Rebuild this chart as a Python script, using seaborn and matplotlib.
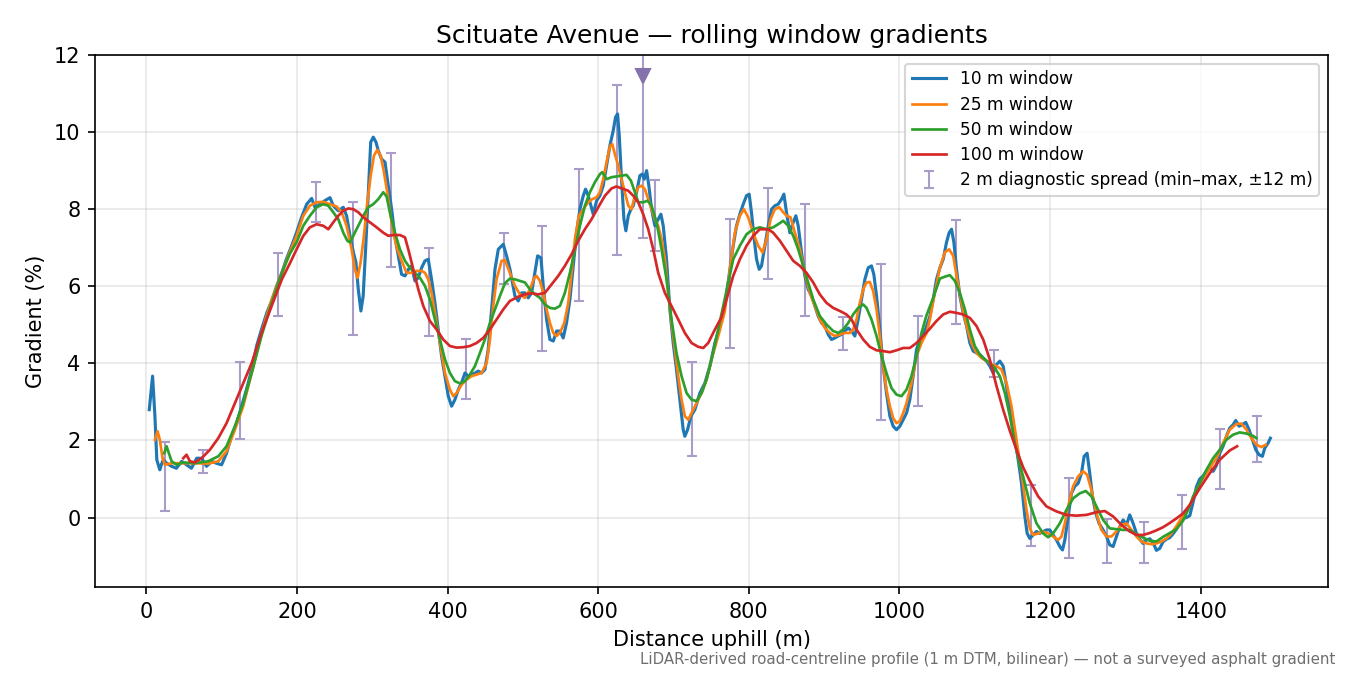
import matplotlib
matplotlib.use("Agg")
import matplotlib.pyplot as plt
import seaborn as sns
import numpy as np

# ---------------- data ----------------
w10_x = [4, 8.4, 11.5, 14, 18, 20, 22.6, 27, 33.7, 40, 47, 53.5, 60, 67, 73.5, 80, 87, 93, 100, 106.6,
         113, 120, 126.6, 133, 140, 146.5, 153, 160, 166.5, 173, 180, 186, 193, 199.6, 206, 213, 219.6, 224,
         230.6, 237, 244, 248.3, 255, 261.6, 266, 270.5, 275, 278.4, 281.5, 285, 288, 291.7, 294.8, 298,
         301.4, 305, 308, 312.5, 317, 321.3, 325.8, 330, 334.6, 339, 343.5, 348, 352.3, 356.7, 361, 365.6,
         370, 374.4, 378.8, 383.3, 387.7, 392.1, 396.6, 401, 405.4, 409.8, 414.3, 418.7, 423.1, 427.5, 432,
         436.4, 440.8, 445.2, 449.6, 454, 458.5, 463, 467.4, 474, 478.4, 482.8, 489.5, 493.9, 498.3, 502.7,
         507.2, 511.6, 516, 519.6, 524, 527.1, 531.5, 535.9, 540.4, 544.8, 549.2, 553.6, 558, 562.5, 566.9,
         571.3, 575.8, 580.2, 583.3, 586.8, 590.4, 593.5, 597.9, 602.3, 606.7, 611.2, 615.6, 620, 623.1,
         625.8, 628, 631, 634.2, 636.8, 640, 643.5, 646.5, 651, 655.4, 658.5, 661.2, 664.3, 667.3, 670.9,
         675.3, 679.7, 683.3, 686.4, 690.8, 695.2, 699.6, 704, 708.5, 712.9, 715.1, 718.7, 723.1, 728.4, 735,
         741.7, 748.3, 755, 761.6, 768.2, 774.9, 779.3, 783.7, 788.1, 792.6, 797, 800.5, 803.6, 807.2, 810.3,
         813.8, 816.9, 821.3, 825.8, 830.2, 834.6, 839, 843.5, 846.6, 850.1, 854.5, 859, 862.5, 865.6, 870,
         874.4, 878.9, 883.3, 887.7, 892.1, 896.6, 901, 905.4, 909.8, 914.2, 918.7, 923.1, 927.5, 931.9,
         936.4, 940.8, 945.2, 949.7, 954.1, 958.5, 962.9, 966, 969.6, 974, 978.4, 982.8, 987.3, 991.7, 996.1,
         1000.5, 1005, 1009.4, 1013.8, 1018.2, 1022.7, 1027.1, 1031.5, 1036, 1040.4, 1044.8, 1049.2, 1053.7,
         1058.1, 1062.5, 1066, 1069.2, 1072.3, 1075.8, 1080.2, 1084.6, 1089.1, 1093.5, 1097.9, 1102.3,
         1106.8, 1111.2, 1115.6, 1120, 1124.5, 1128.9, 1133.3, 1137.7, 1142.2, 1146.6, 1151, 1155.4, 1159.9,
         1162, 1166.5, 1169.6, 1173.1, 1177.5, 1182, 1186.4, 1190.8, 1195.2, 1199.6, 1204, 1208.5, 1212.9,
         1216.5, 1219.6, 1224, 1228.4, 1232.8, 1237.3, 1241.7, 1245.2, 1249.2, 1252.7, 1256.3, 1260.7,
         1265.1, 1270.4, 1274.9, 1279.3, 1283.7, 1288.1, 1292.6, 1297, 1301.4, 1305.8, 1310.3, 1314.7,
         1319.1, 1323.5, 1328, 1332.4, 1336.8, 1341.2, 1345.6, 1350, 1354.5, 1358.9, 1363.4, 1367.8, 1372.2,
         1376.6, 1381, 1385.5, 1389.9, 1394.3, 1398.7, 1403.1, 1407.6, 1412, 1416.4, 1420.8, 1425.3, 1429.7,
         1434.1, 1438.5, 1443, 1446.5, 1450.9, 1455.4, 1459.8, 1464.2, 1468.6, 1473.1, 1477.5, 1481.9, 1485,
         1489.4, 1492.5]
w10_y = [2.8, 3.67, 2.63, 1.5, 1.24, 1.37, 1.5, 1.41, 1.33, 1.28, 1.46, 1.37, 1.28, 1.54, 1.54, 1.33, 1.46,
         1.41, 1.37, 1.67, 2.1, 2.45, 2.89, 3.32, 3.84, 4.45, 4.88, 5.31, 5.62, 6.0, 6.35, 6.7, 7.05, 7.4,
         7.78, 8.13, 8.28, 8.05, 8.13, 8.22, 8.3, 8.09, 7.96, 8.05, 7.83, 7.31, 6.88, 6.62, 5.92, 5.36, 5.75,
         7.14, 8.44, 9.74, 9.87, 9.74, 9.52, 9.3, 9.22, 8.61, 8.0, 7.31, 6.79, 6.31, 6.27, 6.44, 6.53, 6.14,
         6.22, 6.48, 6.66, 6.7, 6.18, 5.57, 4.88, 4.19, 3.67, 3.15, 2.89, 3.06, 3.32, 3.5, 3.75, 3.67, 3.71,
         3.75, 3.8, 3.75, 3.84, 4.36, 5.4, 6.44, 6.96, 7.09, 6.79, 6.45, 5.75, 5.62, 5.83, 5.83, 5.7, 5.83,
         6.35, 6.79, 6.74, 6.01, 5.14, 4.62, 4.58, 4.84, 4.84, 4.66, 5.05, 5.66, 6.53, 7.39, 8.0, 8.35, 8.52,
         8.35, 8.09, 7.87, 8.22, 8.35, 8.61, 9.13, 9.65, 10.04, 10.39, 10.47, 9.91, 8.78, 7.74, 7.44, 7.83,
         8.0, 8.09, 8.44, 8.87, 8.91, 8.78, 9.0, 8.61, 8.0, 7.57, 7.74, 7.87, 7.57, 6.7, 5.4, 4.53, 3.84,
         3.06, 2.28, 2.11, 2.28, 2.63, 2.8, 3.23, 3.49, 3.93, 4.53, 4.97, 5.49, 6.44, 7.05, 7.57, 7.87, 8.13,
         8.35, 8.39, 7.91, 7.22, 6.7, 6.44, 6.53, 7.05, 7.57, 8.0, 8.09, 8.13, 8.26, 8.39, 7.91, 7.39, 7.66,
         7.83, 7.57, 6.88, 6.27, 5.92, 5.75, 5.49, 5.23, 5.05, 4.97, 4.75, 4.62, 4.66, 4.71, 4.75, 4.84, 4.92,
         4.84, 4.71, 5.14, 5.66, 6.18, 6.48, 6.53, 6.31, 5.75, 4.88, 3.93, 3.23, 2.63, 2.37, 2.28, 2.37, 2.54,
         2.71, 3.06, 3.67, 4.36, 4.62, 4.71, 4.97, 5.22, 5.66, 6.18, 6.48, 6.7, 7.14, 7.39, 7.48, 7.14, 6.44,
         5.75, 5.31, 4.97, 4.53, 4.32, 4.27, 4.23, 4.14, 4.06, 3.93, 3.75, 3.97, 4.06, 3.93, 3.41, 2.8, 2.3,
         1.8, 1.2, 0.89, 0.03, -0.41, -0.54, -0.45, -0.36, -0.41, -0.36, -0.32, -0.32, -0.45, -0.58, -0.75,
         -0.84, -0.58, 0.03, 0.63, 0.81, 0.89, 1.15, 1.59, 1.67, 1.15, 0.55, 0.11, -0.15, -0.32, -0.49, -0.71,
         -0.75, -0.49, -0.23, -0.06, -0.19, 0.07, -0.15, -0.41, -0.56, -0.67, -0.58, -0.55, -0.65, -0.85,
         -0.8, -0.63, -0.56, -0.52, -0.42, -0.3, -0.12, -0.02, 0.0, 0.05, 0.4, 0.8, 1.0, 1.08, 1.2, 1.3, 1.2,
         1.35, 1.67, 1.85, 2.11, 2.32, 2.41, 2.52, 2.37, 2.41, 2.47, 2.28, 2.02, 1.76, 1.63, 1.59, 1.8, 1.93,
         2.06]

w25_x = [11.5, 15, 18, 21.7, 24.8, 33.7, 47, 64.6, 82, 95.6, 106.6, 117.7, 128.7, 140, 153, 166.5, 180,
         190.8, 199.6, 208.5, 217.3, 226.2, 235, 244, 252.7, 259.4, 266, 272.7, 277, 280.6, 284.6, 289,
         293.5, 298, 302.3, 306.7, 311.2, 315.6, 320, 324.4, 328.9, 333.3, 339, 345.7, 352.3, 359, 365.6,
         370, 374.4, 378.8, 383.3, 390, 396.6, 403.2, 407.6, 412, 418.7, 425.3, 432, 438.6, 445.2, 451.9,
         456.3, 460.7, 465.1, 471.8, 476.2, 482.8, 489.5, 496.1, 502.7, 509.4, 515.1, 518.2, 522.7, 527.1,
         531.5, 535.9, 540.4, 544.8, 549.2, 555, 560.3, 564.7, 569.1, 574.4, 580.2, 586.8, 592.1, 597.9,
         602.3, 606.7, 611.2, 615.6, 618.7, 622.2, 626.6, 631, 635.5, 640, 644.3, 648.8, 653.2, 657.6, 662,
         666.5, 670.9, 675.3, 679.7, 684.2, 688.6, 693, 697.4, 701.9, 706.3, 710.7, 715.1, 719.6, 724,
         730.6, 737.3, 743.9, 750.5, 759.4, 768.2, 774.9, 781.5, 788.1, 793.5, 799.2, 805.8, 812.5, 818.2,
         823.5, 828.9, 834.6, 840.4, 845.7, 850.1, 855.4, 861.2, 867.8, 874.4, 881, 887.7, 894.3, 901,
         907.6, 914.2, 920.9, 927.5, 934.2, 938.6, 943, 947.4, 951.9, 956.3, 960.7, 965.1, 969.6, 974,
         978.4, 982.8, 987.3, 991.7, 996.1, 1000.5, 1005, 1009.4, 1016, 1022.7, 1029.3, 1036, 1040.4, 1047,
         1053.7, 1060.3, 1066, 1071.4, 1076.7, 1082.4, 1089.1, 1095.7, 1102.3, 1109, 1115.6, 1122.3,
         1128.9, 1135.5, 1142.2, 1148.8, 1155.4, 1160.8, 1164, 1168.7, 1173.1, 1177.5, 1184.2, 1190.8,
         1197.4, 1204, 1210.7, 1215.1, 1219.6, 1224, 1230.6, 1237.3, 1243.9, 1249.2, 1254.9, 1261.6,
         1268.2, 1274.9, 1281.5, 1288.1, 1294.8, 1301.4, 1308, 1314.7, 1321.3, 1327.9, 1334.6, 1341.2,
         1347.9, 1354.5, 1361.2, 1367.8, 1374.4, 1381, 1385.5, 1394.3, 1403.1, 1412, 1420.8, 1429.7,
         1438.5, 1447.4, 1454, 1460.7, 1467.3, 1474, 1480.6, 1486.3]
w25_y = [2.02, 2.24, 2.02, 1.54, 1.37, 1.41, 1.41, 1.41, 1.4, 1.46, 1.72, 2.28, 2.89, 3.75, 4.79, 5.66, 6.35,
         6.9, 7.31, 7.83, 8.09, 8.18, 8.19, 8.13, 8.07, 7.92, 7.57, 6.96, 6.44, 6.22, 6.62, 7.31, 8.18,
         8.87, 9.39, 9.54, 9.39, 8.96, 8.44, 7.83, 7.31, 6.96, 6.66, 6.35, 6.35, 6.4, 6.4, 6.35, 6.18, 5.83,
         5.31, 4.53, 3.75, 3.32, 3.15, 3.23, 3.45, 3.58, 3.67, 3.71, 3.75, 4.01, 4.62, 5.49, 6.18, 6.66,
         6.68, 6.35, 6.01, 5.79, 5.7, 5.92, 6.22, 6.27, 6.14, 5.83, 5.4, 5.05, 4.79, 4.71, 4.79, 5.05, 5.57,
         6.35, 7.22, 7.83, 8.0, 8.18, 8.26, 8.31, 8.44, 8.78, 9.22, 9.63, 9.69, 9.43, 9.13, 8.78, 8.44, 8.09,
         8.0, 8.35, 8.57, 8.61, 8.52, 8.26, 8.0, 7.74, 7.57, 7.22, 6.7, 5.83, 5.05, 4.36, 3.67, 3.06, 2.63,
         2.54, 2.71, 2.97, 3.23, 3.58, 4.1, 4.71, 5.35, 6.44, 7.39, 7.83, 8.0, 7.79, 7.39, 7.05, 6.88, 7.22,
         7.74, 8.0, 8.05, 7.92, 7.83, 7.79, 7.39, 6.96, 6.35, 5.83, 5.49, 5.14, 4.92, 4.79, 4.71, 4.75, 4.79,
         4.79, 4.88, 5.14, 5.57, 5.92, 6.1, 6.11, 5.88, 5.4, 4.71, 3.93, 3.32, 2.89, 2.58, 2.45, 2.5, 2.71,
         2.97, 3.49, 4.19, 4.53, 4.79, 5.14, 5.83, 6.48, 6.88, 6.96, 6.79, 6.18, 5.57, 4.97, 4.53, 4.27,
         4.14, 4.06, 3.97, 3.93, 3.84, 3.49, 2.89, 2.02, 1.3, 0.89, 0.2, -0.28, -0.45, -0.41, -0.36, -0.41,
         -0.49, -0.58, -0.49, -0.15, 0.29, 0.81, 1.07, 1.2, 1.11, 0.72, 0.11, -0.32, -0.49, -0.49, -0.36,
         -0.19, -0.15, -0.32, -0.49, -0.62, -0.67, -0.69, -0.67, -0.62, -0.54, -0.41, -0.22, -0.01, 0.15,
         0.3, 0.72, 1.02, 1.28, 1.54, 1.93, 2.28, 2.43, 2.44, 2.28, 2.06, 1.89, 1.83, 1.89]

w50_x = [23.9, 27, 30, 33.7, 40.3, 49, 64.6, 82, 95.6, 106.6, 117.7, 128.7, 140, 153, 166.5, 180, 190.8,
         199.6, 208.5, 217.3, 226.2, 235, 241.7, 248.3, 255, 261.6, 267, 270.5, 274.9, 281.5, 288.1, 294.8,
         301.4, 308, 314.7, 319.1, 323.5, 330.2, 336.8, 343.5, 350.1, 356.7, 363.4, 370, 376.6, 383.3,
         389.9, 396.6, 403.2, 409.8, 416.5, 423.1, 429.7, 436.4, 443, 449.6, 456.3, 462.9, 469.6, 476.2,
         482.8, 489.5, 496.1, 502.7, 509.4, 516, 522.7, 529.3, 535.9, 542.6, 549.2, 555.8, 562.5, 569.1,
         575.8, 582.4, 589, 595.7, 602.3, 605.4, 611.2, 617.8, 624.4, 631, 637.7, 643.5, 648.8, 653.2,
         659.8, 665.6, 670.9, 677.5, 684.2, 690.8, 697.4, 704, 710.7, 717.4, 724, 730.6, 737.3, 743.9,
         750.5, 759.4, 770.5, 779.3, 788.1, 797, 805.8, 814.7, 823.5, 832.4, 839, 845.7, 852.3, 859, 865.6,
         872.2, 878.9, 885.5, 894.3, 903.2, 912, 918.7, 925.3, 932, 938.6, 945.2, 951.9, 956.3, 962.9,
         969.6, 976.2, 982.8, 989.5, 996.1, 1002.7, 1009.4, 1016, 1022.7, 1029.3, 1036, 1044.8, 1053.7,
         1060.3, 1066.9, 1073.6, 1080.2, 1086.9, 1093.5, 1100.1, 1106.8, 1113.4, 1120, 1126.7, 1133.3,
         1140, 1146.6, 1153.2, 1159.9, 1164.2, 1173.1, 1182, 1190.8, 1197.4, 1204, 1212.9, 1221.8, 1230.6,
         1239.5, 1247.4, 1255, 1261.6, 1270.4, 1279.3, 1288.1, 1297, 1305.8, 1314.7, 1323.5, 1332.4,
         1341.2, 1350, 1358.9, 1367.8, 1376.6, 1385.5, 1389.9, 1398.7, 1407.6, 1416.4, 1425.3, 1434.1, 1443,
         1451.8, 1460.7, 1469.5, 1474]
w50_y = [1.67, 1.85, 1.67, 1.46, 1.37, 1.43, 1.41, 1.46, 1.59, 1.85, 2.37, 2.97, 3.75, 4.71, 5.57, 6.35,
         6.85, 7.14, 7.57, 7.83, 8.05, 8.13, 8.09, 7.92, 7.74, 7.39, 7.18, 7.14, 7.31, 7.57, 7.83, 8.05,
         8.13, 8.26, 8.44, 8.33, 7.92, 7.39, 6.96, 6.66, 6.48, 6.35, 6.22, 6.01, 5.66, 5.14, 4.62, 4.1, 3.75,
         3.54, 3.48, 3.54, 3.71, 3.93, 4.27, 4.62, 5.05, 5.4, 5.75, 6.08, 6.2, 6.18, 6.14, 6.1, 5.92, 5.79,
         5.7, 5.53, 5.44, 5.42, 5.49, 5.83, 6.35, 6.96, 7.57, 8.09, 8.44, 8.7, 8.91, 8.96, 8.78, 8.83, 8.85,
         8.87, 8.89, 8.74, 8.44, 8.18, 8.18, 8.22, 8.09, 7.66, 6.96, 6.18, 5.14, 4.27, 3.67, 3.23, 3.06,
         3.02, 3.23, 3.58, 4.1, 4.88, 5.9, 6.7, 7.05, 7.35, 7.48, 7.53, 7.48, 7.53, 7.61, 7.7, 7.57, 7.31,
         6.96, 6.53, 6.1, 5.66, 5.23, 5.01, 4.84, 4.79, 4.88, 5.05, 5.27, 5.44, 5.53, 5.44, 5.14, 4.71, 4.19,
         3.75, 3.36, 3.19, 3.15, 3.32, 3.67, 4.19, 4.79, 5.25, 5.7, 6.2, 6.25, 6.29, 6.14, 5.83, 5.4, 4.88,
         4.45, 4.23, 4.1, 4.01, 3.88, 3.67, 3.23, 2.63, 1.93, 1.35, 1.07, 0.37, -0.15, -0.41, -0.51, -0.41,
         -0.15, 0.2, 0.5, 0.63, 0.69, 0.55, 0.29, -0.06, -0.28, -0.3, -0.32, -0.32, -0.43, -0.52, -0.6, -0.62,
         -0.5, -0.4, -0.3, -0.08, 0.3, 0.55, 0.89, 1.24, 1.54, 1.76, 2.02, 2.15, 2.21, 2.18, 2.12, 2.06]

w100_x = [49.1, 53.5, 58, 64.6, 73.5, 84.5, 95.6, 106.6, 117.7, 128.7, 140, 153, 166.5, 180, 190.8, 199.6,
          208.5, 217.3, 226.2, 235, 241.7, 248.3, 255, 261.6, 268.2, 274.9, 281.5, 288.1, 297, 305.8,
          314.7, 321.3, 328, 336.8, 343.5, 347.9, 354.5, 361.2, 367.8, 376.6, 385.5, 394.3, 403.2, 412,
          420.9, 429.7, 438.6, 447.4, 456.3, 465.1, 474, 482.8, 493.9, 502.7, 511.6, 520.4, 529.3, 538.1,
          547, 555.8, 564.7, 573.5, 582.4, 591.2, 600.1, 609, 617.8, 624.4, 631, 639.9, 646.6, 653.2, 659.8,
          666.5, 673.1, 679.7, 688.6, 697.4, 706.3, 715.1, 724, 732.8, 739.5, 746.1, 755, 763.8, 770.5,
          779.3, 788.1, 797, 805.8, 814.7, 825.8, 832.4, 841.3, 850.1, 859, 867.8, 876.6, 885.5, 894.3,
          903.2, 912, 920.9, 929.7, 936.4, 943, 951.9, 960.7, 969.6, 978.4, 987.3, 996.1, 1005, 1013.8,
          1022.7, 1031.5, 1040.4, 1049.2, 1058.1, 1067, 1075.8, 1084.6, 1093.5, 1102.3, 1111.2, 1120,
          1128.9, 1137.7, 1146.6, 1155.4, 1164.3, 1173.1, 1184.2, 1195.2, 1208.5, 1221.8, 1235, 1248.3,
          1261.6, 1272.7, 1283.7, 1294.8, 1305.8, 1314.7, 1323.5, 1332.4, 1341.2, 1350, 1358.9, 1367.8,
          1376.6, 1385.5, 1398.7, 1412, 1425.3, 1438.5, 1448.3]
w100_y = [1.54, 1.63, 1.46, 1.43, 1.54, 1.76, 2.06, 2.45, 2.97, 3.49, 4.01, 4.79, 5.49, 6.18, 6.6, 6.96,
          7.31, 7.53, 7.61, 7.57, 7.48, 7.66, 7.83, 7.96, 8.02, 8.0, 7.92, 7.79, 7.66, 7.53, 7.39, 7.31,
          7.33, 7.33, 7.27, 6.96, 6.44, 5.92, 5.49, 5.1, 4.88, 4.62, 4.45, 4.41, 4.42, 4.45, 4.53, 4.66,
          4.88, 5.14, 5.4, 5.62, 5.73, 5.79, 5.82, 5.79, 5.83, 6.05, 6.27, 6.53, 6.83, 7.18, 7.48, 7.74,
          8.05, 8.35, 8.54, 8.59, 8.54, 8.48, 8.35, 8.18, 7.87, 7.48, 6.96, 6.35, 5.83, 5.49, 5.14, 4.79,
          4.53, 4.43, 4.4, 4.53, 4.88, 5.2, 5.66, 6.27, 6.7, 7.05, 7.31, 7.48, 7.48, 7.39, 7.18, 6.92, 6.66,
          6.53, 6.35, 6.1, 5.79, 5.57, 5.44, 5.36, 5.27, 5.14, 4.88, 4.62, 4.43, 4.34, 4.32, 4.29, 4.34, 4.4,
          4.4, 4.53, 4.71, 4.9, 5.1, 5.27, 5.34, 5.31, 5.27, 5.18, 4.97, 4.62, 4.1, 3.41, 2.8, 2.25, 1.76,
          1.3, 0.95, 0.55, 0.29, 0.16, 0.07, 0.05, 0.07, 0.14, 0.17, 0.03, -0.19, -0.36, -0.45, -0.45, -0.4,
          -0.33, -0.25, -0.14, -0.02, 0.11, 0.33, 0.76, 1.15, 1.5, 1.74, 1.85]

spread_x = [25, 75, 125, 175, 225, 275, 325, 375, 425, 475, 525, 575, 625, 660, 675, 725, 775, 825, 875,
            925, 975, 1025, 1075, 1125, 1175, 1225, 1275, 1325, 1375, 1425, 1475]
spread_lo = [0.16, 1.15, 2.05, 5.23, 7.67, 4.73, 6.5, 4.71, 3.08, 6.07, 4.32, 5.62, 6.81, 7.25, 6.92, 1.6,
             4.39, 6.18, 5.23, 4.36, 2.52, 2.89, 5.01, 3.64, -0.73, -1.04, -1.17, -1.17, -0.81, 0.73, 1.43]
spread_hi = [1.97, 1.76, 4.03, 6.86, 8.71, 8.19, 9.46, 7.0, 4.62, 7.38, 7.57, 9.04, 11.21, 12.8, 8.76, 4.03,
             7.74, 8.55, 8.13, 5.21, 6.57, 5.23, 7.72, 4.34, 0.85, 1.04, -0.04, -0.11, 0.59, 2.31, 2.64]

# off-scale marker (spread maximum beyond the axis top)
clip_x = [660]
clip_y = [11.45]

title = "Scituate Avenue \u2014 rolling window gradients"
xlabel = "Distance uphill (m)"
ylabel = "Gradient (%)"
note = "LiDAR-derived road-centreline profile (1 m DTM, bilinear) \u2014 not a surveyed asphalt gradient"
spread_label = "2 m diagnostic spread (min\u2013max, \u00b112 m)"

# ---------------- plot ----------------
fig, ax = plt.subplots(figsize=(9, 4.5), dpi=150)
fig.subplots_adjust(left=0.0704, right=0.9837, bottom=0.1304, top=0.9185)

lo = np.array(spread_lo)
hi = np.array(spread_hi)
mid = (lo + hi) / 2
ax.errorbar(spread_x, mid, yerr=(hi - lo) / 2, fmt="none", ecolor="#a99cc9",
            elinewidth=1.0, capsize=2.2, capthick=1.0, zorder=1, label=spread_label)

series = [(w10_x, w10_y, "#1f77b4", "10 m window", 1.5),
          (w25_x, w25_y, "#ff7f0e", "25 m window", 1.3),
          (w50_x, w50_y, "#2ca02c", "50 m window", 1.3),
          (w100_x, w100_y, "#d62728", "100 m window", 1.3)]
for xs, ys, col, lab, lw in series:
    sns.lineplot(x=xs, y=ys, ax=ax, color=col, label=lab, linewidth=lw,
                 estimator=None, sort=False, zorder=2)

ax.plot(clip_x, clip_y, linestyle="none", marker="v", markersize=6.5,
        color="#8472ab", zorder=3)

ax.set_xlim(-68, 1569)
ax.set_ylim(-1.8, 12)
ax.grid(True, color="#b0b0b0", alpha=0.3, linewidth=0.8)
ax.set_axisbelow(True)
ax.set_title(title, fontsize=12)
ax.set_xlabel(xlabel, fontsize=10)
ax.set_ylabel(ylabel, fontsize=10)

handles, labels = ax.get_legend_handles_labels()
order = [labels.index(l) for l in ["10 m window", "25 m window", "50 m window", "100 m window",
                                     spread_label]]
ax.legend([handles[i] for i in order], [labels[i] for i in order], loc="upper right",
          fontsize=8.2, labelspacing=0.42)

fig.text(0.989, 0.012, note, ha="right", va="bottom", fontsize=7.2, color="#6e6e6e")

fig.savefig("out.png", dpi=150)
